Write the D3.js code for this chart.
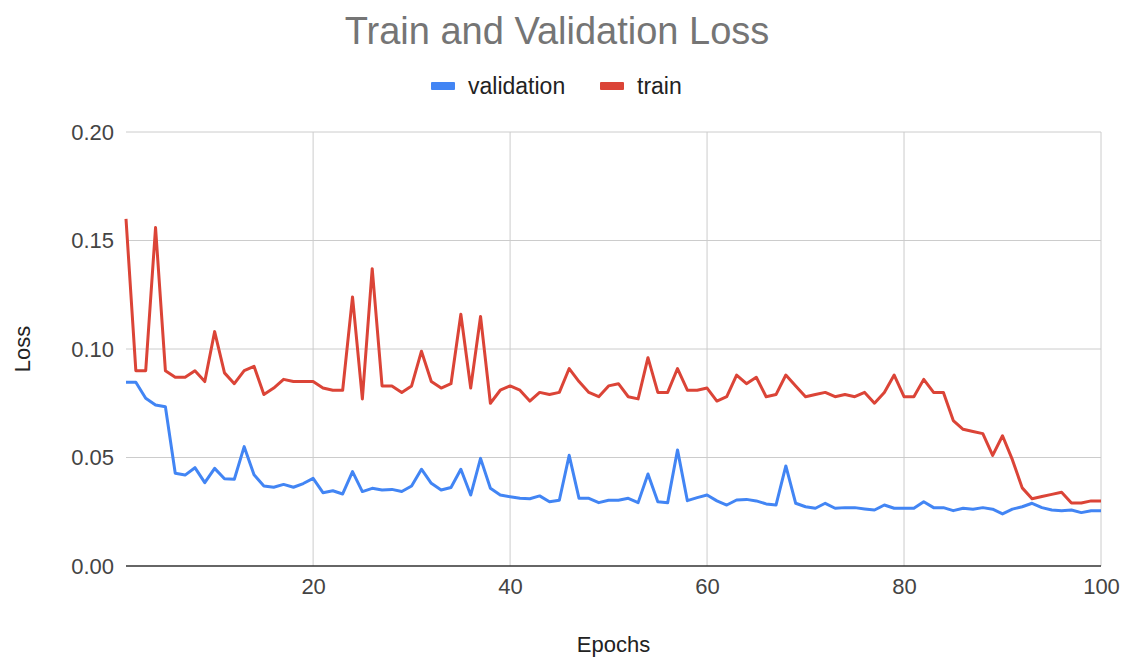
<!DOCTYPE html>
<html>
<head>
<meta charset="utf-8">
<script src="https://cdn.jsdelivr.net/npm/d3@7"></script>
<style>
  html, body { margin: 0; padding: 0; background: #fff; }
  svg { display: block; font-family: "Liberation Sans", Arial, sans-serif; }
</style>
</head>
<body>
<svg id="chart" width="1126" height="660"></svg>
<script>
const epochs = d3.range(1, 101);
const trainLoss = [
  0.160, 0.090, 0.090, 0.156, 0.090, 0.087, 0.087, 0.090, 0.085, 0.108,
  0.089, 0.084, 0.090, 0.092, 0.079, 0.082, 0.086, 0.085, 0.085, 0.085,
  0.082, 0.081, 0.081, 0.124, 0.077, 0.137, 0.083, 0.083, 0.080, 0.083,
  0.099, 0.085, 0.082, 0.084, 0.116, 0.082, 0.115, 0.075, 0.081, 0.083,
  0.081, 0.076, 0.080, 0.079, 0.080, 0.091, 0.085, 0.080, 0.078, 0.083,
  0.084, 0.078, 0.077, 0.096, 0.080, 0.080, 0.091, 0.081, 0.081, 0.082,
  0.076, 0.078, 0.088, 0.084, 0.087, 0.078, 0.079, 0.088, 0.083, 0.078,
  0.079, 0.080, 0.078, 0.079, 0.078, 0.080, 0.075, 0.080, 0.088, 0.078,
  0.078, 0.086, 0.080, 0.080, 0.067, 0.063, 0.062, 0.061, 0.051, 0.060,
  0.049, 0.036, 0.031, 0.032, 0.033, 0.034, 0.029, 0.029, 0.030, 0.030
];
const validationLoss = [
  0.0847, 0.0847, 0.0773, 0.0742, 0.0734, 0.0427, 0.0419, 0.0453, 0.0384, 0.0450,
  0.0402, 0.0400, 0.0550, 0.0420, 0.0369, 0.0363, 0.0376, 0.0363, 0.0380, 0.0404,
  0.0338, 0.0347, 0.0332, 0.0435, 0.0343, 0.0358, 0.0350, 0.0353, 0.0343, 0.0369,
  0.0446, 0.0381, 0.0350, 0.0362, 0.0446, 0.0327, 0.0496, 0.0358, 0.0327, 0.0319,
  0.0312, 0.0310, 0.0323, 0.0296, 0.0303, 0.0510, 0.0312, 0.0312, 0.0292, 0.0303,
  0.0303, 0.0312, 0.0292, 0.0424, 0.0296, 0.0292, 0.0535, 0.0301, 0.0315, 0.0327,
  0.0300, 0.0281, 0.0304, 0.0307, 0.0300, 0.0286, 0.0281, 0.0461, 0.0289, 0.0273,
  0.0266, 0.0289, 0.0266, 0.0269, 0.0269, 0.0263, 0.0258, 0.0281, 0.0266, 0.0266,
  0.0266, 0.0296, 0.0269, 0.0269, 0.0255, 0.0266, 0.0262, 0.0269, 0.0262, 0.0240,
  0.0262, 0.0273, 0.0289, 0.0269, 0.0258, 0.0255, 0.0258, 0.0246, 0.0255, 0.0255
];
const xTicks = [20, 40, 60, 80, 100];
const yTicks = [0, 0.05, 0.10, 0.15, 0.20];
const seriesNames = ["validation", "train"];
const seriesColors = ["#4285F4", "#DB4437"];
const titleText = "Train and Validation Loss";
const xTitle = "Epochs";
const yTitle = "Loss";

(function () {
const svg = d3.select("#chart");
const mLeft = 126, mRight = 1101, mTop = 132, mBottom = 566;

const x = d3.scaleLinear().domain([1, 100]).range([mLeft, mRight]);
const y = d3.scaleLinear().domain([0, 0.20]).range([mBottom, mTop]);

// horizontal gridlines
svg.append("g")
  .selectAll("line").data(yTicks.filter(d => d > 0)).join("line")
  .attr("x1", mLeft).attr("x2", mRight)
  .attr("y1", d => y(d)).attr("y2", d => y(d))
  .attr("stroke", "#cccccc").attr("stroke-width", 1);

// vertical gridlines
svg.append("g")
  .selectAll("line").data(xTicks).join("line")
  .attr("x1", d => x(d)).attr("x2", d => x(d))
  .attr("y1", mTop).attr("y2", mBottom)
  .attr("stroke", "#cccccc").attr("stroke-width", 1);

// y axis labels
const yAxis = d3.axisLeft(y).tickValues(yTicks).tickFormat(d3.format(".2f")).tickSize(0).tickPadding(12);
const gy = svg.append("g").attr("transform", `translate(${mLeft},0)`).call(yAxis);
gy.select(".domain").remove();
gy.selectAll("text").attr("font-size", 22).attr("fill", "#444").attr("font-family", "Liberation Sans, Arial, sans-serif");

// x axis
const xAxis = d3.axisBottom(x).tickValues(xTicks).tickFormat(d3.format("d")).tickSize(0).tickPadding(12);
const gx = svg.append("g").attr("transform", `translate(0,${mBottom})`).call(xAxis);
gx.select(".domain").remove();
gx.selectAll("text").attr("font-size", 22).attr("fill", "#444").attr("font-family", "Liberation Sans, Arial, sans-serif");

// baseline
svg.append("line")
  .attr("x1", mLeft).attr("x2", mRight)
  .attr("y1", y(0)).attr("y2", y(0))
  .attr("stroke", "#333").attr("stroke-width", 1.5);

// lines
const line = d3.line().x((d, i) => x(epochs[i])).y(d => y(d));
const allSeries = [validationLoss, trainLoss];
svg.append("g").selectAll("path").data(allSeries).join("path")
  .attr("d", d => line(d))
  .attr("fill", "none")
  .attr("stroke", (d, i) => seriesColors[i])
  .attr("stroke-width", 3)
  .attr("stroke-linejoin", "round");

// title
svg.append("text")
  .attr("x", 557).attr("y", 44)
  .attr("text-anchor", "middle")
  .attr("font-size", 38)
  .attr("fill", "#757575")
  .text(titleText);

// legend
const legendItems = [
  {name: seriesNames[0], color: seriesColors[0], sx: 431, tx: 468},
  {name: seriesNames[1], color: seriesColors[1], sx: 600, tx: 637}
];
const lg = svg.append("g");
legendItems.forEach(it => {
  lg.append("rect").attr("x", it.sx).attr("y", 82).attr("width", 24).attr("height", 8)
    .attr("rx", 1).attr("fill", it.color);
  lg.append("text").attr("x", it.tx).attr("y", 94).attr("font-size", 23)
    .attr("fill", "#222").text(it.name);
});

// axis titles
svg.append("text")
  .attr("x", (mLeft + mRight) / 2).attr("y", 652)
  .attr("text-anchor", "middle").attr("font-size", 22).attr("fill", "#222")
  .text(xTitle);
svg.append("text")
  .attr("transform", `translate(30,${(mTop + mBottom) / 2}) rotate(-90)`)
  .attr("text-anchor", "middle").attr("font-size", 22).attr("fill", "#222")
  .text(yTitle);
})();
</script>
</body>
</html>
